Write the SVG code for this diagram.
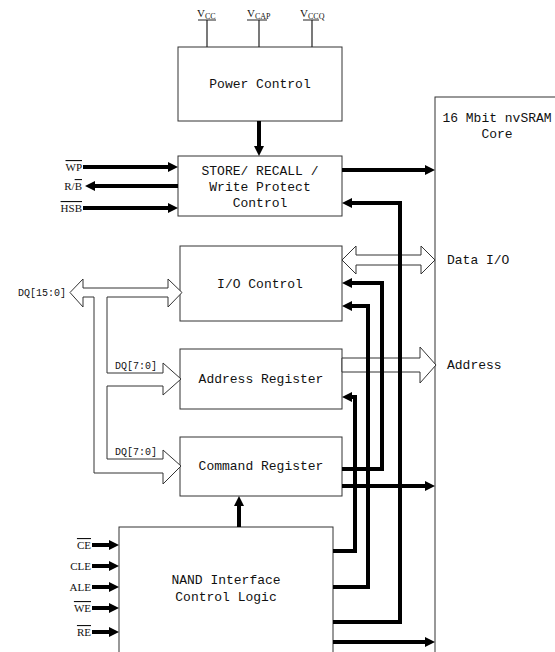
<svg xmlns="http://www.w3.org/2000/svg" width="555" height="652" viewBox="0 0 555 652">
<style>
.box{fill:#fff;stroke:#333;stroke-width:1}
.t{font-family:"Liberation Mono","DejaVu Sans Mono",monospace;font-size:13px;fill:#111}
.ts{font-family:"Liberation Mono","DejaVu Sans Mono",monospace;font-size:10px;fill:#111}
.sl{font-family:"Liberation Serif","Times New Roman",serif;font-size:11px;fill:#111}
.ov{text-decoration:overline}
.thick{fill:none;stroke:#000;stroke-width:4;stroke-linejoin:miter}
.thin{fill:none;stroke:#222;stroke-width:1.2}
.hollow{fill:#fff;stroke:#333;stroke-width:1}
</style>
<defs>
<marker id="ah" markerUnits="userSpaceOnUse" markerWidth="10" markerHeight="10" refX="2" refY="5" orient="auto">
<path d="M0,0 L10,5 L0,10 z" fill="#000"/>
</marker>
</defs>
<rect width="555" height="652" fill="#fff"/>

<g id="core">
<rect class="box" x="435" y="97" width="130" height="570"/>
<text class="t" x="497" y="122" text-anchor="middle">16 Mbit nvSRAM</text>
<text class="t" x="497" y="138" text-anchor="middle">Core</text>
</g>

<g id="power">
<rect class="box" x="178" y="47" width="164" height="74"/>
<text class="t" x="260" y="88" text-anchor="middle">Power Control</text>
</g>

<g id="store">
<rect class="box" x="178" y="156" width="164" height="60"/>
<text class="t" x="260" y="175" text-anchor="middle">STORE/ RECALL /</text>
<text class="t" x="260" y="191" text-anchor="middle">Write Protect</text>
<text class="t" x="260" y="207" text-anchor="middle">Control</text>
</g>

<g id="io">
<rect class="box" x="180" y="246" width="162" height="75"/>
<text class="t" x="260" y="288" text-anchor="middle">I/O Control</text>
</g>

<g id="addr">
<rect class="box" x="180" y="349" width="162" height="60"/>
<text class="t" x="261" y="383" text-anchor="middle">Address Register</text>
</g>

<g id="cmd">
<rect class="box" x="180" y="437" width="162" height="59"/>
<text class="t" x="261" y="470" text-anchor="middle">Command Register</text>
</g>

<g id="nand">
<rect class="box" x="119" y="527" width="214" height="130"/>
<text class="t" x="226" y="584" text-anchor="middle">NAND Interface</text>
<text class="t" x="226" y="601" text-anchor="middle">Control Logic</text>
</g>

<g id="connectors">
<!-- supply lines -->
<path class="thin" d="M198,20 H216 M207,20 V47"/>
<path class="thin" d="M247,20 H267 M259,20 V47"/>
<path class="thin" d="M303,20 H319 M312,20 V47" stroke="#666"/>
<!-- hollow buses -->
<polygon class="hollow" points="342,260 356,246 356,255 421,255 421,246 435,260 421,274 421,265 356,265 356,274"/>
<polygon class="hollow" points="342,358 420,358 420,347 436,365 420,383 420,372 342,372"/>
<polygon class="hollow" points="70,292.5 83,279 83,288 168,288 168,279 182,292.5 168,307 168,297 107,297 107,373 163,373 163,363 181,379 163,395 163,386 107,386 107,459 163,459 163,450 181,466 163,484 163,473 94,473 94,297 83,297 83,307"/>
<!-- thick arrows -->
<line class="thick" x1="259" y1="121" x2="259" y2="148" marker-end="url(#ah)"/>
<line class="thick" x1="83" y1="167" x2="170" y2="167" marker-end="url(#ah)"/>
<line class="thick" x1="178" y1="186" x2="93" y2="186" marker-end="url(#ah)"/>
<line class="thick" x1="83" y1="208" x2="170" y2="208" marker-end="url(#ah)"/>
<line class="thick" x1="342" y1="170" x2="427" y2="170" marker-end="url(#ah)"/>
<path class="thick" d="M333,622 H400 V203 H350" marker-end="url(#ah)"/>
<path class="thick" d="M333,587 H368 V306 H350" marker-end="url(#ah)"/>
<path class="thick" d="M333,551 H355 V397 H350" marker-end="url(#ah)"/>
<path class="thick" d="M342,469 H382 V283 H350" marker-end="url(#ah)"/>
<line class="thick" x1="342" y1="486" x2="427" y2="486" marker-end="url(#ah)"/>
<line class="thick" x1="333" y1="642" x2="427" y2="642" marker-end="url(#ah)"/>
<line class="thick" x1="239" y1="527" x2="239" y2="504" marker-end="url(#ah)"/>
<line class="thick" x1="92" y1="545" x2="111" y2="545" marker-end="url(#ah)"/>
<line class="thick" x1="92" y1="566" x2="111" y2="566" marker-end="url(#ah)"/>
<line class="thick" x1="92" y1="587" x2="111" y2="587" marker-end="url(#ah)"/>
<line class="thick" x1="92" y1="608" x2="111" y2="608" marker-end="url(#ah)"/>
<line class="thick" x1="92" y1="632" x2="111" y2="632" marker-end="url(#ah)"/>
</g>

<g id="labels">
<text class="sl" x="197" y="17">V<tspan font-size="8" dy="2">CC</tspan></text>
<text class="sl" x="247" y="17">V<tspan font-size="8" dy="2">CAP</tspan></text>
<text class="sl" x="300" y="17">V<tspan font-size="8" dy="2">CCQ</tspan></text>
<text class="sl" x="82" y="171" text-anchor="end"><tspan class="ov">WP</tspan></text>
<text class="sl" x="82" y="190" text-anchor="end">R/<tspan class="ov">B</tspan></text>
<text class="sl" x="82" y="212" text-anchor="end"><tspan class="ov">HSB</tspan></text>
<text class="sl" x="91" y="549" text-anchor="end"><tspan class="ov">CE</tspan></text>
<text class="sl" x="91" y="570" text-anchor="end">CLE</text>
<text class="sl" x="91" y="591" text-anchor="end">ALE</text>
<text class="sl" x="91" y="612" text-anchor="end"><tspan class="ov">WE</tspan></text>
<text class="sl" x="91" y="636" text-anchor="end"><tspan class="ov">RE</tspan></text>
<text class="ts" x="66" y="296" text-anchor="end">DQ[15:0]</text>
<text class="ts" x="115" y="369">DQ[7:0]</text>
<text class="ts" x="115" y="455">DQ[7:0]</text>
<text class="t" x="447" y="264">Data I/O</text>
<text class="t" x="447" y="369">Address</text>
</g>
</svg>
